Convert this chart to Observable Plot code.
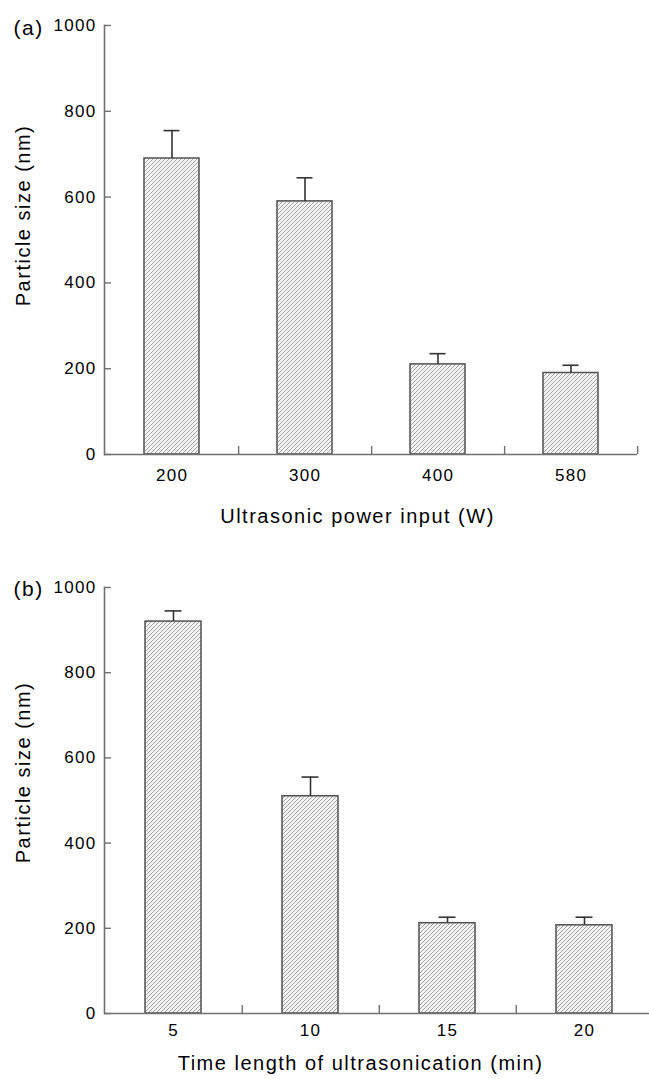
<!DOCTYPE html>
<html>
<head>
<meta charset="utf-8">
<script src="https://cdn.jsdelivr.net/npm/d3@7"></script>
<script src="https://cdn.jsdelivr.net/npm/@observablehq/plot@0.6"></script>
<style>
  html, body { margin: 0; padding: 0; background: #fff; overflow: hidden; }
  #wrap { width: 649px; height: 1079px; overflow: hidden; }
  #wrap svg { display: block; }
</style>
</head>
<body>
<div id="wrap"></div>
<script>
// ---- data ----
const powerCats = ["200", "300", "400", "580"];
const powerSize = [690, 590, 210, 190];
const powerErrTop = [755, 645, 235, 208];

const timeCats = ["5", "10", "15", "20"];
const timeSize = [920, 510, 212, 207];
const timeErrTop = [945, 555, 226, 226];

const yTicks = [0, 200, 400, 600, 800, 1000];

const yTitle = "Particle size (nm)";
const powerTitle = "Ultrasonic power input (W)";
const timeTitle = "Time length of ultrasonication (min)";

// ---- drawing ----
const FONT = "'Liberation Sans', Arial, Helvetica, sans-serif";
const AXIS = "#707070";

function panel({cats, sizes, errs, id, tag, xTitle, width, height, mt, mb, ml, mr,
                tickPad, titleDx, titleDy, yLabDy, tagDy}) {
  const rows = cats.map((c, i) => ({cat: c, size: sizes[i], err: errs[i]}));
  const plotW = width - ml - mr;
  const plotH = height - mt - mb;
  const step = plotW / cats.length;
  const svg = Plot.plot({
    width, height,
    marginTop: mt, marginBottom: mb, marginLeft: ml, marginRight: mr,
    style: `max-width:none; font-family:${FONT}; font-size:17px; color:#000; background:#fff; letter-spacing:1.3px;`,
    x: {domain: cats, paddingInner: 0.59, paddingOuter: 0.295, label: null},
    y: {domain: [0, 1000], label: null},
    marks: [
      Plot.barY(rows, {x: "cat", y: "size", fill: `url(#${id})`, stroke: "#505050", strokeWidth: 1.5}),
      Plot.ruleX(rows, {x: "cat", y1: "size", y2: "err", stroke: "#333", strokeWidth: 1.6}),
      Plot.tickY(rows, {x: "cat", y: "err", insetLeft: 19.5, insetRight: 19.5, stroke: "#333", strokeWidth: 1.6}),
      Plot.frame({anchor: "left", stroke: AXIS, strokeWidth: 1.6}),
      Plot.ruleY([0], {stroke: AXIS, strokeWidth: 1.6}),
      Plot.tickY(yTicks, {y: d => d, insetRight: plotW - 7, stroke: AXIS, strokeWidth: 1.4}),
      Plot.tickX(cats, {x: d => d, dx: step / 2, insetTop: plotH - 8, stroke: AXIS, strokeWidth: 1.4}),
      Plot.axisY({ticks: yTicks, tickSize: 0, tickPadding: 8, tickFormat: d => String(d)}),
      Plot.axisX({tickSize: 0, tickPadding: tickPad}),
      Plot.text([yTitle], {frameAnchor: "left", text: d => d, rotate: -90, dx: 23.5 - ml, dy: yLabDy,
                           fontSize: 20, textAnchor: "middle", lineAnchor: "middle", fill: "#000"}),
      Plot.text([tag], {frameAnchor: "top-left", text: d => d, dx: 13 - ml, dy: tagDy,
                        fontSize: 21, textAnchor: "start", lineAnchor: "middle", fill: "#000"}),
      Plot.text([xTitle], {frameAnchor: "bottom", text: d => d, dx: titleDx, dy: titleDy,
                           fontSize: 20, textAnchor: "middle", lineAnchor: "middle", fill: "#000"})
    ]
  });
  // hatch pattern
  const defs = d3.select(svg).insert("defs", ":first-child");
  const pat = defs.append("pattern")
    .attr("id", id).attr("patternUnits", "userSpaceOnUse")
    .attr("width", 4).attr("height", 4);
  pat.append("rect").attr("width", 4).attr("height", 4).attr("fill", "#f3f3f3");
  pat.append("path").attr("d", "M-1,1 l2,-2 M0,4 l4,-4 M3,5 l2,-2")
    .attr("stroke", "#a0a0a0").attr("stroke-width", 0.9);
  d3.select(svg).selectAll('g[aria-label="text"] text').style("letter-spacing", "1.5px");
  return svg;
}

const wrap = document.getElementById("wrap");
wrap.appendChild(panel({
  cats: powerCats, sizes: powerSize, errs: powerErrTop, id: "hatchA", tag: "(a)",
  xTitle: powerTitle, width: 649, height: 545, mt: 25, mb: 91, ml: 104, mr: 12,
  tickPad: 14, titleDx: -13.5, titleDy: 62, yLabDy: -24.5, tagDy: 3
}));
wrap.appendChild(panel({
  cats: timeCats, sizes: timeSize, errs: timeErrTop, id: "hatchB", tag: "(b)",
  xTitle: timeTitle, width: 654, height: 534, mt: 42, mb: 66, ml: 104, mr: 0,
  tickPad: 10, titleDx: -19, titleDy: 50, yLabDy: -28, tagDy: 2
}));
</script>
</body>
</html>
